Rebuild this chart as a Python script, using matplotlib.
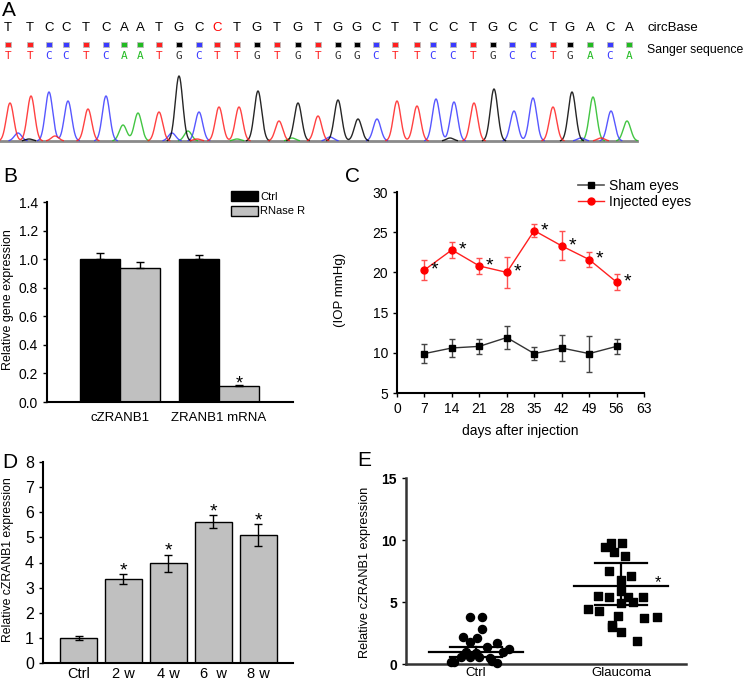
import numpy as np
import matplotlib.pyplot as plt
from matplotlib.lines import Line2D

plt.rcParams['font.family'] = ['Liberation Sans', 'DejaVu Sans']

W, H = 748, 682

# ---- A: sequence + chromatogram
ref_seq = "TTCCTCAATGCCTGTGTGG" + "CTTCCTGCCTGACA"
sanger_seq = "TTCCTCAATGCTTGTGTGG" + "CTTCCTGCCTGACA"
mismatch = 11
base_pos = [8, 30, 49, 66, 86, 106, 124, 140, 159, 179, 199, 217, 237, 257, 277, 298, 318, 338, 357,
            376, 395, 417, 433, 453, 473, 493, 512, 533, 553, 570, 590, 610, 629]
peak_pos = [10, 31, 49, 68, 88, 106, 123, 138, 159, 179, 199, 219, 239, 258, 279, 298, 318, 338, 358,
            377, 397, 417, 436, 454, 474, 494, 514, 533, 553, 572, 593, 611, 627]
peak_h = [38, 45, 49, 40, 32, 45, 16, 28, 29, 65, 29, 34, 34, 50, 20, 38, 25, 41, 22,
          22, 40, 35, 42, 39, 38, 52, 30, 43, 34, 49, 44, 30, 20]
minor_pos = [18, 29, 55, 172, 188, 197, 237, 292, 330, 450, 581, 601]
minor_h = [8, 2, 5, 8, 10, 2, 2, 3, 4, 3, 3, 3]
minor_base = ['C', 'G', 'T', 'C', 'A', 'T', 'A', 'A', 'C', 'G', 'C', 'T']
base_colors = {'A': '#22bb22', 'C': '#3a3aff', 'G': '#000000', 'T': '#ff2020'}

# ---- B
b_groups = ['cZRANB1', 'ZRANB1 mRNA']
b_ctrl = [1.0, 1.0]
b_ctrl_err = [0.045, 0.03]
b_rnase = [0.937, 0.114]
b_rnase_err = [0.04, 0.005]

# ---- C
days = [7, 14, 21, 28, 35, 42, 49, 56]
sham = [9.9, 10.6, 10.8, 11.9, 9.9, 10.6, 9.9, 10.8]
sham_err = [1.15, 1.08, 0.93, 1.43, 0.85, 1.6, 2.25, 0.93]
inj = [20.3, 22.8, 20.8, 20.0, 25.2, 23.3, 21.6, 18.8]
inj_err = [1.25, 0.95, 1.05, 1.97, 0.85, 1.8, 0.9, 1.05]

# ---- D
d_groups = ['Ctrl', '2 w', '4 w', '6  w', '8 w']
d_vals = [1.0, 3.33, 3.97, 5.62, 5.09]
d_err = [0.08, 0.2, 0.34, 0.26, 0.42]

# ---- E
e_groups = ['Ctrl', 'Glaucoma']
ctrl_vals = [3.84, 3.84, 2.88, 2.23, 2.15, 1.80, 1.69, 1.42, 1.24, 0.97, 1.02, 0.89,
             0.62, 0.62, 0.62, 0.48, 0.22, 0.13, 0.30, 0.15]
ctrl_off = [-0.04, 0.04, 0.04, -0.09, 0.01, -0.04, 0.15, 0.08, 0.23, 0.19, -0.07, 0.0,
            -0.10, -0.04, 0.02, 0.10, -0.15, 0.15, 0.11, -0.17]
glau_vals = [9.44, 9.76, 9.81, 9.06, 8.74, 7.55, 7.10, 6.80, 5.94, 5.54, 5.40, 5.40,
             5.40, 5.05, 4.92, 4.46, 4.33, 3.92, 3.71, 3.84, 3.17, 2.98, 2.58, 1.91]
glau_off = [-0.11, -0.07, 0.005, -0.05, 0.03, -0.08, 0.07, 0.0, 0.0, -0.16, -0.08, 0.05,
            0.15, 0.08, 0.0, -0.23, -0.15, -0.02, 0.16, 0.25, -0.06, -0.06, 0.0, 0.11]
e_mean = [1.0, 6.31]
e_sd_hi = [1.42, 8.19]
e_sd_lo = [0.6, 4.78]


def rect(l, t, r, b):
    return [l / W, 1 - b / H, (r - l) / W, (b - t) / H]


def ftext(x, y, s, **kw):
    fig.text(x / W, 1 - y / H, s, **kw)


def star(ax, x, y, dx, dy, fs):
    # asterisk centre sits a bit above the baseline
    ax.annotate('*', (x, y), xytext=(dx, dy - 0.37 * fs), textcoords='offset points',
                ha='center', va='baseline', fontsize=fs)


def style(ax, lw=1.3, color='black'):
    for s in ['top', 'right']:
        ax.spines[s].set_visible(False)
    for s in ['left', 'bottom']:
        ax.spines[s].set_linewidth(lw)
        ax.spines[s].set_color(color)
    ax.tick_params(direction='out', length=3, width=1, colors='black')


fig = plt.figure(figsize=(W / 100, H / 100), dpi=100)

# ================= A
ax = fig.add_axes(rect(0, 0, W, 150))
ax.set_xlim(0, W)
ax.set_ylim(150, 0)
ax.axis('off')
for i, (x, b) in enumerate(zip(base_pos, ref_seq)):
    ax.text(x, 28, b, ha='center', va='center', fontsize=9.5,
            color='red' if i == mismatch else 'black')
sq_c = [base_colors[b] for b in sanger_seq]
ax.scatter(base_pos, [44.5] * len(base_pos), marker='s', s=16, c=sq_c, edgecolors='#bbbbbb', linewidths=0.6)
for x, b in zip(base_pos, sanger_seq):
    ax.text(x, 56, b, ha='center', va='center', fontsize=8, family='DejaVu Sans Mono',
            color=base_colors[b] if b != 'G' else '#333333')
ax.text(648, 28, 'circBase', ha='left', va='center', fontsize=9.5)
ax.text(647, 50, 'Sanger sequence', ha='left', va='center', fontsize=8.8)

baseline = 141
ax.plot([0, 637], [baseline, baseline], color='#8a8a8a', lw=2, zorder=1)
xs = np.linspace(0, 637, 3000)
all_pos = peak_pos + minor_pos
all_h = peak_h + minor_h
all_b = list(sanger_seq) + minor_base
for base, color in base_colors.items():
    y = np.zeros_like(xs)
    for p, h, b in zip(all_pos, all_h, all_b):
        if b == base:
            y += h * np.exp(-0.5 * ((xs - p) / 3.7) ** 2)
    y = np.ma.masked_less(y, 0.4)
    ax.plot(xs, baseline - y, color=color, lw=1.0, zorder=2, alpha=0.85)

# ================= B
ax = fig.add_axes(rect(47, 202, 293, 402))
w = 0.404
xb = np.arange(len(b_groups))
ax.bar(xb - w / 2, b_ctrl, w, color='black', edgecolor='black', linewidth=1,
       yerr=[[0] * 2, b_ctrl_err], error_kw=dict(ecolor='black', capsize=3, elinewidth=1, capthick=1),
       label='Ctrl')
ax.bar(xb + w / 2, b_rnase, w, color='#c0c0c0', edgecolor='black', linewidth=1,
       yerr=[[0] * 2, b_rnase_err], error_kw=dict(ecolor='black', capsize=3, elinewidth=1, capthick=1),
       label='RNase R')
star(ax, xb[1] + w / 2, b_rnase[1], 0, 3, 13)
ax.set_xlim(-0.737, 1.747)
ax.set_ylim(0, 1.4)
ax.set_yticks(np.arange(0, 1.41, 0.2))
ax.set_yticklabels(['%.1f' % v for v in np.arange(0, 1.41, 0.2)], fontsize=10)
ax.set_xticks(xb)
ax.set_xticklabels(b_groups, fontsize=9.5)
style(ax, lw=1.5)
ax.tick_params(axis='x', length=0, pad=7)
ax.legend(loc='upper left', bbox_to_anchor=(231 / W, 1 - 191 / H), bbox_transform=fig.transFigure,
          frameon=False, fontsize=8, handlelength=2.4, handleheight=1.0, handletextpad=0.2,
          labelspacing=0.35, borderpad=0, borderaxespad=0)
ftext(8, 300, 'Relative gene expression', rotation=90, ha='center', va='center', fontsize=9)

# ================= C
ax = fig.add_axes(rect(397, 192, 644, 393))
ax.errorbar(days, sham, yerr=sham_err, color='#333333', lw=1, marker='s', ms=4.5, mfc='black',
            mec='black', ecolor='#444444', elinewidth=1, capsize=2.5, capthick=1, label='Sham eyes')
ax.errorbar(days, inj, yerr=inj_err, color='#ff2020', lw=1, marker='o', ms=5, mfc='red',
            mec='red', ecolor='#ff5050', elinewidth=1, capsize=2.5, capthick=1, label='Injected eyes')
for d, v in zip(days, inj):
    star(ax, d, v, 7.5, 2, 14)
ax.set_xlim(0, 63)
ax.set_ylim(5, 30)
ax.set_xticks(range(0, 64, 7))
ax.set_yticks(range(5, 31, 5))
ax.tick_params(labelsize=10)
style(ax, lw=1.5)
ax.set_xlabel('days after injection', fontsize=10, labelpad=6)
handles = [Line2D([], [], color='#555555', lw=1.2, marker='s', ms=4, mfc='black', mec='black'),
           Line2D([], [], color='#ff2020', lw=1, marker='o', ms=5, mfc='red', mec='red')]
ax.legend(handles, ['Sham eyes', 'Injected eyes'], loc='upper left',
          bbox_to_anchor=(578 / W, 1 - 179 / H), bbox_transform=fig.transFigure,
          frameon=False, fontsize=10, handlelength=1.9, handletextpad=0.3,
          labelspacing=0.15, borderpad=0, borderaxespad=0)
ftext(340, 290, '(IOP mmHg)', rotation=90, ha='center', va='center', fontsize=9.5)

# ================= D
ax = fig.add_axes(rect(43, 461.7, 293, 663.3))
xd = np.arange(len(d_groups))
ax.bar(xd, d_vals, 0.82, color='#c0c0c0', edgecolor='black', linewidth=1,
       yerr=d_err, error_kw=dict(ecolor='black', capsize=3, elinewidth=1, capthick=1))
for x, v, e in list(zip(xd, d_vals, d_err))[1:]:
    star(ax, x, v + e, 0, 4.5, 14)
ax.set_xlim(-0.79, 4.77)
ax.set_ylim(0, 8)
ax.set_yticks(range(0, 9))
ax.set_xticks(xd)
ax.set_xticklabels(d_groups, fontsize=10.5)
ax.tick_params(axis='y', labelsize=11.5)
style(ax, lw=1.5)
ax.tick_params(axis='x', length=0, pad=3)
ftext(8, 560, 'Relative cZRANB1 expression', rotation=90, ha='center', va='center', fontsize=8.8)

# ================= E
ax = fig.add_axes(rect(406, 478.3, 685.7, 664.3))
ax.scatter(np.array(ctrl_off), ctrl_vals, marker='o', s=34, color='black', zorder=3, clip_on=False)
ax.scatter(1 + np.array(glau_off), glau_vals, marker='s', s=34, color='black', zorder=3)
for i in range(2):
    ax.plot([i - 0.324, i + 0.324], [e_mean[i], e_mean[i]], color='black', lw=1.6, zorder=4)
    for v in (e_sd_hi[i], e_sd_lo[i]):
        ax.plot([i - 0.18, i + 0.18], [v, v], color='black', lw=1.6, zorder=4)
    ax.plot([i, i], [e_sd_lo[i], e_sd_hi[i]], color='black', lw=1.6, zorder=4)
star(ax, 1.255, e_mean[1], 0, 4, 12)
ax.set_xlim(-0.48, 1.446)
ax.set_ylim(0, 15)
ax.set_yticks([0, 5, 10, 15])
ax.set_xticks([0, 1])
ax.set_xticklabels(e_groups, fontsize=9.5)
style(ax, lw=1.8, color='#333333')
ax.tick_params(axis='x', length=0, pad=2)
for t in ax.get_yticklabels():
    t.set_fontweight('bold')
    t.set_fontsize(10)
ftext(365, 572, 'Relative cZRANB1 expression', rotation=90, ha='center', va='center', fontsize=9.2)

# panel letters
for x, y, s in [(9, 10, 'A'), (10, 176, 'B'), (352, 177, 'C'), (10, 462, 'D'), (364, 460, 'E')]:
    ftext(x, y, s, ha='center', va='center', fontsize=15)

fig.savefig('out.png', dpi=100)
